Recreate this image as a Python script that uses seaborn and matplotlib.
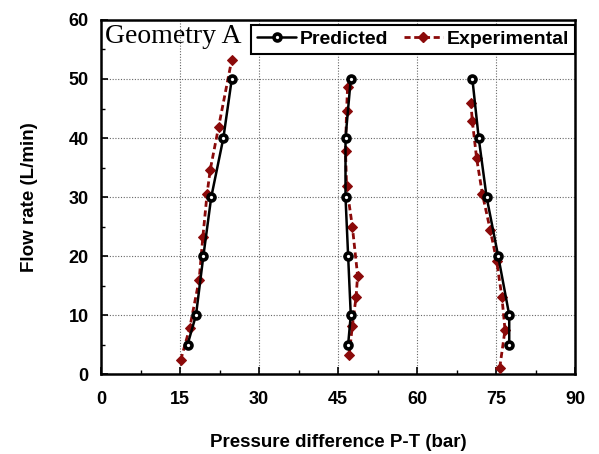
import numpy as np
import pandas as pd
import matplotlib
matplotlib.use('Agg')
import matplotlib.pyplot as plt
import seaborn as sns
from matplotlib.ticker import MultipleLocator
from matplotlib.lines import Line2D

# predicted (3 groups, same flow rates)
pred_q = [5, 10, 20, 30, 40, 50]
pred_p1 = [16.4, 18.0, 19.4, 20.9, 23.2, 24.8]
pred_p2 = [46.9, 47.4, 46.9, 46.4, 46.4, 47.4]
pred_p3 = [77.5, 77.5, 75.4, 73.2, 71.7, 70.5]

# experimental
exp_q1 = [2.4, 7.8, 16.0, 23.2, 30.5, 34.6, 41.9, 53.3]
exp_p1 = [15.1, 16.8, 18.6, 19.3, 20.1, 20.7, 22.3, 24.8]
exp_q2 = [3.2, 8.2, 13.0, 16.7, 25.0, 31.9, 37.8, 44.6, 48.7]
exp_p2 = [47.1, 47.7, 48.4, 48.7, 47.7, 46.6, 46.4, 46.6, 46.8]
exp_q3 = [1.1, 7.5, 13.1, 19.2, 24.4, 30.5, 36.6, 42.8, 46.0]
exp_p3 = [75.7, 76.7, 76.1, 75.1, 73.9, 72.4, 71.3, 70.5, 70.2]

pred = pd.concat([
    pd.DataFrame({'p': pred_p1, 'q': pred_q, 'g': 1}),
    pd.DataFrame({'p': pred_p2, 'q': pred_q, 'g': 2}),
    pd.DataFrame({'p': pred_p3, 'q': pred_q, 'g': 3}),
])
exp = pd.concat([
    pd.DataFrame({'p': exp_p1, 'q': exp_q1, 'g': 1}),
    pd.DataFrame({'p': exp_p2, 'q': exp_q2, 'g': 2}),
    pd.DataFrame({'p': exp_p3, 'q': exp_q3, 'g': 3}),
])

sns.set_style('ticks')
plt.rcParams['font.family'] = ['Liberation Sans', 'DejaVu Sans']
plt.rcParams['font.weight'] = 'bold'
plt.rcParams['text.color'] = 'black'
plt.rcParams['axes.labelcolor'] = 'black'
plt.rcParams['xtick.color'] = 'black'
plt.rcParams['ytick.color'] = 'black'

red = '#8b0a0a'
fig = plt.figure(figsize=(5.99, 4.54), dpi=100)
ax = fig.add_axes([0.169, 0.176, 0.791, 0.780])

sns.lineplot(data=exp, x='p', y='q', units='g', estimator=None, sort=False,
             color=red, linestyle=(0, (2.2, 1.3)), linewidth=2, marker='D',
             markersize=5, markeredgecolor=red, ax=ax, zorder=3)
sns.lineplot(data=pred, x='p', y='q', units='g', estimator=None, sort=False,
             color='black', linewidth=1.8, marker='o', markersize=5,
             markerfacecolor='white', markeredgecolor='black', markeredgewidth=2.6,
             ax=ax, zorder=4)

ax.set_xlim(0, 90)
ax.set_ylim(0, 60)
ax.xaxis.set_major_locator(MultipleLocator(15))
ax.xaxis.set_minor_locator(MultipleLocator(7.5))
ax.yaxis.set_major_locator(MultipleLocator(10))
ax.yaxis.set_minor_locator(MultipleLocator(5))
ax.grid(True, which='major', linestyle=(0, (1, 1.5)), color='#666666', linewidth=0.8)
ax.tick_params(axis='x', which='both', direction='in', labelsize=13, pad=12)
ax.tick_params(axis='y', which='both', direction='in', labelsize=13, pad=9)
ax.tick_params(which='major', length=5, width=1.2)
ax.tick_params(which='minor', length=3, width=1)
for s in ax.spines.values():
    s.set_linewidth(1.8)
    s.set_color('black')

ax.set_xlabel('Pressure difference P-T (bar)', fontsize=13.5, fontweight='bold', labelpad=19)
ax.set_ylabel('Flow rate (L/min)', fontsize=13.5, fontweight='bold', labelpad=22)

ax.text(0.008, 0.99, 'Geometry A', transform=ax.transAxes, ha='left', va='top',
        fontsize=20, family='Liberation Serif', fontweight='normal')

handles = [
    Line2D([], [], color='black', linewidth=1.8, marker='o', markersize=5,
           markerfacecolor='white', markeredgecolor='black', markeredgewidth=2.6),
    Line2D([], [], color=red, linestyle=(0, (2.2, 1.3)), linewidth=2, marker='D',
           markersize=5, markeredgecolor=red),
]
leg = ax.legend(handles, ['Predicted', 'Experimental'], loc='upper right', ncol=2,
                bbox_to_anchor=(1.004, 0.992), fancybox=False, framealpha=1,
                edgecolor='black', prop={'size': 14, 'weight': 'bold'},
                handlelength=2.0, handletextpad=0.2, columnspacing=0.8,
                borderpad=0.3, borderaxespad=0.1)
leg.get_frame().set_linewidth(1.5)

fig.savefig('out.png', dpi=100)
